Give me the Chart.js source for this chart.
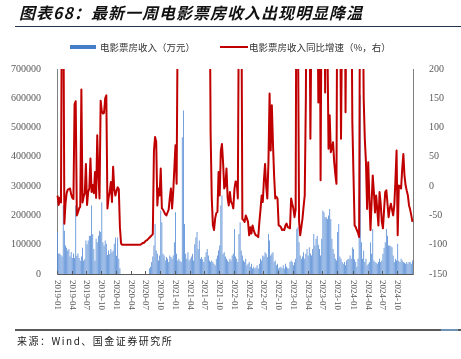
<!DOCTYPE html>
<html><head><meta charset="utf-8">
<script src="https://cdn.jsdelivr.net/npm/chart.js@4.4.1/dist/chart.umd.min.js"></script>
<style>
html,body{margin:0;padding:0;background:#fff;}
#wrap{position:relative;width:461px;height:359px;overflow:hidden;font-family:"Noto Sans CJK SC","Noto Sans",sans-serif;}
#c{position:absolute;left:0;top:0;}
#title{position:absolute;left:19px;top:1px;font-size:16px;line-height:22px;font-weight:bold;font-style:italic;letter-spacing:1px;color:#111;white-space:nowrap;}
#tline{position:absolute;left:15px;top:26px;width:446px;height:1px;background:#22324f;}
.lg{position:absolute;font-size:9.5px;line-height:12px;color:#333;white-space:nowrap;}
.sw{position:absolute;}
#fline{position:absolute;left:15px;top:329px;width:446px;height:2px;background:#5a5a5a;}
#fline2{position:absolute;left:441px;top:329px;width:17px;height:2px;background:#6f93b5;}
#foot{position:absolute;left:17px;top:334px;font-size:10px;line-height:14px;letter-spacing:1.5px;color:#222;white-space:nowrap;}
</style></head>
<body>
<div id="wrap">
<canvas id="c" width="461" height="359"></canvas>
<div id="title">图表68：最新一周电影票房收入出现明显降温</div>
<div id="tline"></div>
<div class="sw" style="left:70px;top:45px;width:26px;height:4px;background:#467DC8;"></div>
<div class="lg" style="left:100px;top:41px;">电影票房收入（万元）</div>
<div class="sw" style="left:220px;top:46px;width:28px;height:2px;background:#C00000;"></div>
<div class="lg" style="left:249px;top:41px;">电影票房收入同比增速（%，右）</div>
<div id="fline"></div><div id="fline2"></div>
<div id="foot">来源：Wind、国金证券研究所</div>
</div>
<script>
// Weekly box office revenue (万元)
const revenue = [
143000,70000,70000,65000,60000,234000,148000,97000,90000,80000,
85000,60000,75000,55000,70000,55000,234000,62000,70000,55000,
45000,60000,90000,45000,50000,114000,102000,114000,131000,131000,
234000,137000,85000,45000,120000,108000,131000,148000,143000,245000,
108000,97000,114000,103000,65000,80000,68000,85000,74000,80000,
103000,125000,62000,125000,52000,20000,null,null,null,null,
null,null,null,null,null,null,null,null,null,null,
null,null,null,null,null,null,null,null,null,null,
null,19000,25000,41000,60000,97000,171000,80000,69000,46000,
63000,217000,177000,69000,63000,46000,58000,52000,41000,63000,
58000,52000,63000,108000,211000,69000,46000,52000,45000,41000,
467000,558000,171000,69000,52000,74000,46000,52000,60000,69000,
46000,102000,125000,143000,85000,114000,52000,58000,50000,41000,
58000,74000,85000,63000,46000,41000,46000,41000,35000,30000,
52000,63000,80000,97000,234000,268000,69000,74000,60000,52000,
46000,41000,52000,46000,63000,70000,154000,60000,52000,41000,
137000,177000,80000,63000,46000,41000,52000,30000,35000,41000,
25000,35000,19000,25000,19000,22000,30000,19000,35000,52000,
46000,63000,60000,74000,69000,58000,137000,114000,63000,70000,
74000,41000,46000,30000,35000,19000,22000,25000,19000,30000,
19000,35000,25000,20000,19000,41000,46000,41000,30000,40000,
52000,154000,160000,108000,63000,52000,60000,74000,52000,69000,
85000,63000,91000,70000,63000,85000,137000,97000,120000,131000,
100000,85000,63000,120000,217000,211000,194000,194000,188000,200000,
222000,188000,120000,85000,69000,52000,46000,143000,171000,60000,
52000,41000,35000,41000,30000,46000,50000,52000,63000,52000,
91000,85000,50000,41000,25000,52000,262000,610000,108000,52000,
80000,41000,52000,30000,35000,41000,108000,69000,154000,46000,
41000,38000,35000,41000,52000,41000,46000,69000,90000,108000,
154000,131000,97000,97000,95000,91000,63000,41000,52000,46000,
103000,45000,41000,52000,46000,41000,38000,35000,41000,35000,
41000,41000,35000,46000];

// YoY growth (%), right axis; values above 200 run off the top of the plot
const yoy = [
-16,-32,-20,-28,420,380,-64,-30,-12,-6,
-5,-4,-14,-20,-22,140,145,-50,-45,-38,
-35,165,-28,-18,-12,38,-32,-10,-4,47,
-10,2,-12,24,-20,87,20,-21,146,128,
124,125,150,155,-38,-20,-10,7,-27,33,
-5,-16,-8,-2,-5,-70,-98,-100,-100,-100,
-100,-100,-100,-100,-100,-100,-100,-100,-100,-100,
-100,-100,-100,-100,-99,-97,-97,-95,-93,-92,
-90,-88,-86,-84,-82,60,84,76,-33,-4,
-16,30,-38,-40,-44,-48,-50,-45,-40,-20,
-4,-38,-10,30,70,4,300,900,1500,2000,
3000,3500,2500,2000,1800,1500,1200,1000,900,800,
800,700,700,650,600,600,550,500,500,450,
450,400,400,350,400,90,-20,-67,-75,-55,
-46,-44,24,-16,60,72,40,-4,1,30,
-20,-33,-10,-27,-30,-38,-5,8,7,-21,
350,500,400,-56,-58,-61,-50,-55,-61,-84,
-70,-81,-67,-75,-81,-84,-85,-87,-61,-40,
-16,-27,10,38,0,-21,41,158,61,138,
72,18,-21,-18,-21,-67,-68,-70,-75,-74,
-75,-67,-64,-70,-71,-72,-21,-30,-38,-53,
-40,600,300,-60,-84,-70,-56,-35,-16,150,
500,800,400,81,300,600,800,900,500,400,
143,500,10,400,700,500,160,400,250,64,
121,58,65,75,41,20,4,500,700,400,
81,300,700,500,126,400,800,900,600,400,
109,20,-67,-70,-75,-80,-87,500,900,400,
150,80,41,-39,41,-20,-75,-27,18,-10,
-45,-16,-40,-67,-10,-30,-61,-72,-40,-10,
-7,-30,-53,-38,-30,-40,-50,-33,10,61,
-84,1,0,-4,30,55,18,1,-8,-16,
-33,-40,-50,-61];

const tickLabels = ['2019-01','2019-04','2019-07','2019-10','2020-01','2020-04','2020-07','2020-10',
'2021-01','2021-04','2021-07','2021-10','2022-01','2022-04','2022-07','2022-10',
'2023-01','2023-04','2023-07','2023-10','2024-01','2024-04','2024-07','2024-10'];

// weekly categories (week dates)
const weeks = [];
(function(){
  const start = Date.UTC(2019,0,6);
  for (let i = 0; i < revenue.length; i++) {
    const d = new Date(start + i*7*86400000);
    weeks.push(d.toISOString().slice(0,10));
  }
})();

const quarterTicks = {
  id: 'quarterTicks',
  afterDraw(chart) {
    const xs = chart.scales.x, ctx = chart.ctx, bottom = chart.chartArea.bottom;
    ctx.save();
    ctx.font = '9px "Liberation Serif"';
    ctx.fillStyle = '#595959';
    ctx.strokeStyle = '#595959';
    ctx.lineWidth = 1;
    tickLabels.forEach(lbl => {
      const idx = weeks.findIndex(w => w.startsWith(lbl));
      if (idx < 0) return;
      const x = Math.round(xs.getPixelForValue(idx) - xs.width/weeks.length/2) + 0.5;
      ctx.beginPath(); ctx.moveTo(x, bottom); ctx.lineTo(x, bottom - 3); ctx.stroke();
      ctx.save();
      ctx.translate(x, bottom + 6);
      ctx.rotate(Math.PI/2);
      ctx.textAlign = 'left';
      ctx.textBaseline = 'middle';
      ctx.fillText(lbl, 0, 0);
      ctx.restore();
    });
    ctx.restore();
  }
};

const tickFont = {family: '"Liberation Serif"', size: 10};

new Chart(document.getElementById('c'), {
  type: 'bar',
  data: {
    labels: weeks,
    datasets: [
      {type: 'line', label: '电影票房收入同比增速（%，右）', data: yoy, yAxisID: 'y1',
       borderColor: '#C00000', backgroundColor: '#C00000', borderWidth: 2, pointRadius: 0,
       tension: 0, borderJoinStyle: 'round', order: 0},
      {type: 'bar', label: '电影票房收入（万元）', data: revenue, yAxisID: 'y',
       backgroundColor: '#5B8FD6', barPercentage: 0.75, categoryPercentage: 1, order: 1}
    ]
  },
  options: {
    responsive: false,
    animation: false,
    devicePixelRatio: 1,
    layout: {padding: {top: 69, left: 0, right: 0, bottom: 0}},
    plugins: {legend: {display: false}, tooltip: {enabled: false}},
    scales: {
      x: {
        offset: true,
        ticks: {display: false},
        grid: {display: false},
        border: {display: true, color: '#595959', width: 1},
        afterFit: s => { s.height = 85; }
      },
      y: {
        position: 'left', min: 0, max: 700000,
        ticks: {stepSize: 100000, font: tickFont, color: '#595959', padding: 8, callback: v => String(v)},
        grid: {display: false},
        border: {display: true, color: '#7f7f7f', width: 1},
        afterFit: s => { s.width = 57; }
      },
      y1: {
        position: 'right', min: -150, max: 200,
        ticks: {stepSize: 50, font: tickFont, color: '#595959', padding: 8, callback: v => String(v)},
        grid: {display: false},
        border: {display: true, color: '#7f7f7f', width: 1},
        afterFit: s => { s.width = 48; }
      }
    }
  },
  plugins: [quarterTicks]
});
</script>
</body></html>
